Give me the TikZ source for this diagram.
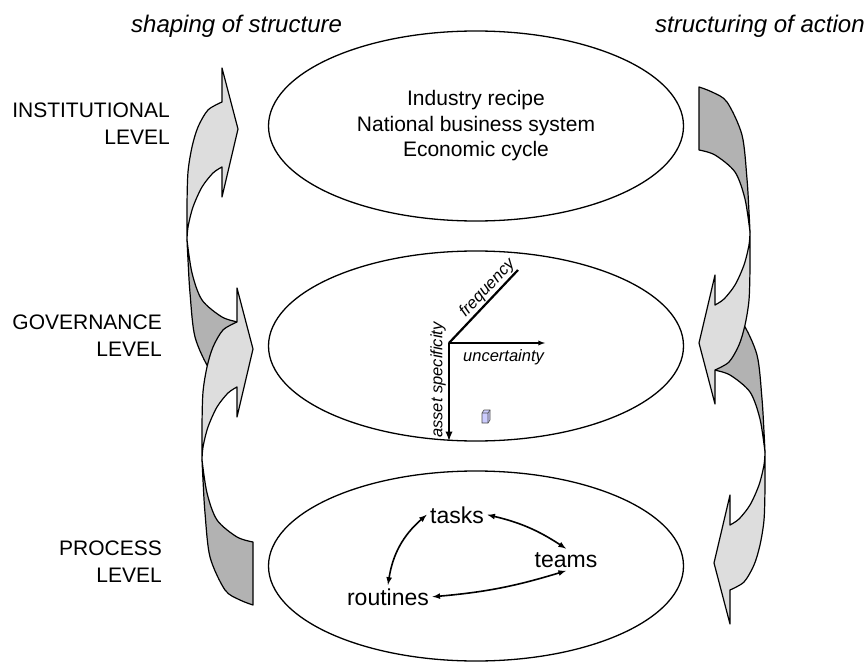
\documentclass[tikz,border=0pt]{standalone}
\usepackage{fontspec}
\setmainfont{Liberation Sans}
\usepackage{tikz}
\usepackage{xcolor}
\usetikzlibrary{shapes,arrows,positioning,calc}

\definecolor{lightface}{HTML}{DDDDDD}
\definecolor{darkface}{HTML}{B2B2B2}
\definecolor{cubeface}{HTML}{CCCCFF}

% curved band arrow, tail below, head pointing right
\newcommand{\bandarrow}{%
  \filldraw[backface] (202,460) -- plot[smooth] coordinates {(202,460) (207,493) (217,520) (237,537) (253,542)}
    -- (253,605) -- plot[smooth] coordinates {(253,605) (240,600) (225,590) (210,557) (205,513) (203,480) (202,460)} -- cycle;
  \filldraw[frontface] (237,322) -- (237,288) -- (253,349) -- (237,417) -- (237,387)
    -- plot[smooth] coordinates {(237,387) (228,393) (217,407) (208,427) (203,447) (202,460)}
    -- plot[smooth] coordinates {(202,460) (202,425) (203,392) (207,367) (213,347) (223,330) (237,322)} -- cycle;
}

\begin{document}
\begin{tikzpicture}[x=1pt, y=-1pt,
    frontface/.style={fill=lightface, draw=black, line width=1.2pt, line join=round},
    backface/.style={fill=darkface, draw=black, line width=1.2pt, line join=round},
    levelbox/.style={ellipse, draw, line width=1.3pt, minimum width=415pt, minimum height=190pt, inner sep=0pt},
    levellab/.style={align=right, anchor=east, inner sep=0pt, font=\fontsize{21}{27}\selectfont},
    head/.style={anchor=base west, inner sep=0pt, font=\fontsize{24}{28}\selectfont\itshape},
    axlab/.style={inner sep=1pt, font=\fontsize{16.5}{20}\selectfont\itshape},
    axis/.style={-latex, line width=2.2pt},
    proc/.style={anchor=base, font=\fontsize{23}{27}\selectfont},
    twoway/.style={latex-latex, line width=1.6pt}
]
    \useasboundingbox (0,0) rectangle (868,666);

    % loop arrows, left side up, right side down
    \begin{scope}[shift={(-15,-220)}]
        \bandarrow
    \end{scope}
    \bandarrow
    \begin{scope}[rotate around={180:(476,346)}]
        \begin{scope}[shift={(-15,-220)}]
            \bandarrow
        \end{scope}
        \bandarrow
    \end{scope}

    % the three levels
    \node[levelbox, font=\fontsize{21}{25.5}\selectfont, align=center] (inst) at (476,126) {Industry recipe\\National business system\\Economic cycle};
    \node[levelbox] (gov) at (476,346) {};
    \node[levelbox] (proc) at (476,566) {};

    \node[head] (shaping) at (131,33) {shaping of structure};
    \node[head] (structuring) at (655,33) {structuring of action};

    \node[levellab] (instlab) at (170,124) {INSTITUTIONAL\\LEVEL};
    \node[levellab] (govlab) at (162,336) {GOVERNANCE\\LEVEL};
    \node[levellab] (proclab) at (162,562) {PROCESS\\LEVEL};

    % transaction dimensions
    \coordinate (origin) at (449,343);
    \coordinate (uend) at (545,343);
    \coordinate (fend) at (518,270);
    \coordinate (aend) at (449,441);
    \draw[axis, line width=1.3pt] (origin) -- (uend);
    \draw[line width=2.2pt] (origin) -- node[axlab, sloped, above, pos=0.66] (freq) {frequency} (fend);
    \draw[axis] (origin) -- (aend);
    \node[axlab, anchor=base west, inner sep=0pt] (uncert) at (463,361) {uncertainty};
    \node[axlab, rotate=90, anchor=south] (asset) at (447,380) {asset specificity};
    \filldraw[fill=cubeface, draw=black!70, line width=0.6pt] (482,413) -- (484,410) -- (490,410) -- (490,420) -- (488,423) -- (482,423) -- cycle;
    \draw[draw=black!70, line width=0.6pt] (482,413) -- (488,413) -- (488,423) (488,413) -- (490,410);

    % process elements
    \node[proc] (tasks) at (457,523) {tasks};
    \node[proc] (teams) at (566,567) {teams};
    \node[proc] (routines) at (388,605) {routines};

    \draw[twoway] (tasks.east) to[bend left=10] (teams.north);
    \draw[twoway] (tasks.west) to[bend right=20] (routines.north);
    \draw[twoway] (routines.east) to[bend right=6] (teams.south);
\end{tikzpicture}
\end{document}
